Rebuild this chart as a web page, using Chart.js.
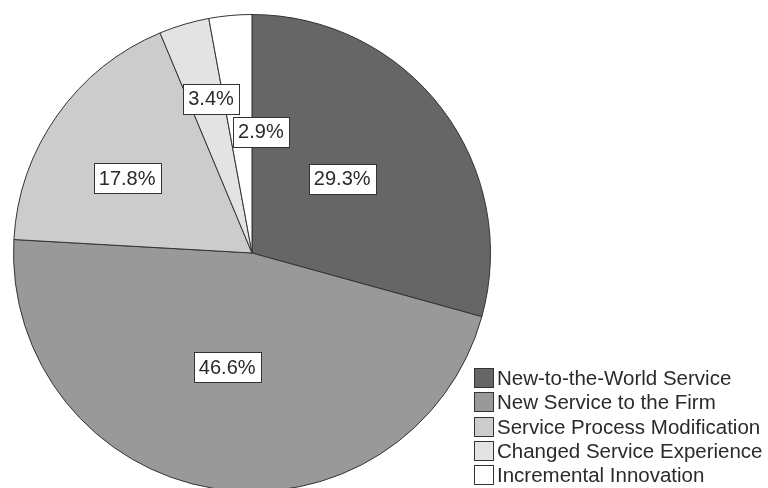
<!DOCTYPE html>
<html>
<head>
<meta charset="utf-8">
<script src="https://cdn.jsdelivr.net/npm/chart.js@4/dist/chart.umd.min.js"></script>
<style>
  html, body { margin: 0; padding: 0; background: #fff; overflow: hidden; }
  #wrap { width: 768px; height: 488px; overflow: hidden; }
</style>
</head>
<body>
<div id="wrap"><canvas id="chartPie" width="768" height="496"></canvas></div>
<script>
let categories = [
  "New-to-the-World Service",
  "New Service to the Firm",
  "Service Process Modification",
  "Changed Service Experience",
  "Incremental Innovation",
];
let percents = [29.3, 46.6, 17.8, 3.4, 2.9];
let sliceColors = ["#666666", "#999999", "#cccccc", "#e3e3e3", "#ffffff"];

// where each label box sits: fraction of radius and small turn (degrees) off the mid angle
let labelRadius = [0.49, 0.49, 0.61, 0.67, 0.51];
let labelTurn = [-2.2, 2.9, -4.4, 1.7, 9.4];

const FONT = "Arial, 'Liberation Sans', sans-serif";

let boxLabels = {
  id: "boxLabels",
  afterDatasetsDraw(chart) {
    let ctx = chart.ctx;
    let meta = chart.getDatasetMeta(0);
    ctx.save();
    ctx.font = "20px " + FONT;
    ctx.textAlign = "center";
    ctx.textBaseline = "middle";
    meta.data.forEach((arc, i) => {
      let mid = (arc.startAngle + arc.endAngle) / 2 + (labelTurn[i] * Math.PI) / 180;
      let r = arc.outerRadius * labelRadius[i];
      let x = arc.x + Math.cos(mid) * r;
      let y = arc.y + Math.sin(mid) * r;
      let txt = percents[i].toFixed(1) + "%";
      let w = ctx.measureText(txt).width + 10;
      let h = 30;
      ctx.fillStyle = "#fff";
      ctx.fillRect(Math.round(x - w / 2) + 0.5, Math.round(y - h / 2) + 0.5, Math.round(w), h);
      ctx.strokeStyle = "#333";
      ctx.lineWidth = 1;
      ctx.strokeRect(Math.round(x - w / 2) + 0.5, Math.round(y - h / 2) + 0.5, Math.round(w), h);
      ctx.fillStyle = "#2a2a2a";
      ctx.fillText(txt, x, y + 1);
    });
    ctx.restore();
  },
};

let sideLegend = {
  id: "sideLegend",
  afterDraw(chart) {
    let ctx = chart.ctx;
    ctx.save();
    ctx.font = "20.5px " + FONT;
    ctx.textBaseline = "middle";
    chart.data.labels.forEach((lab, i) => {
      let top = 368 + i * 24.3;
      ctx.fillStyle = sliceColors[i];
      ctx.fillRect(474.5, Math.round(top) + 0.5, 19, 19);
      ctx.strokeStyle = "#333";
      ctx.lineWidth = 1;
      ctx.strokeRect(474.5, Math.round(top) + 0.5, 19, 19);
      ctx.fillStyle = "#2a2a2a";
      ctx.fillText(lab, 497, Math.round(top) + 11);
    });
    ctx.restore();
  },
};

let chartPie = new Chart(document.getElementById("chartPie").getContext("2d"), {
  type: "pie",
  data: {
    labels: categories,
    datasets: [
      {
        data: percents,
        backgroundColor: sliceColors,
        borderColor: "#333333",
        borderWidth: 1,
      },
    ],
  },
  options: {
    responsive: false,
    animation: false,
    layout: {
      padding: { left: 13, right: 277, top: 14, bottom: 4 },
    },
    plugins: {
      legend: { display: false },
      tooltip: { enabled: false },
    },
  },
  plugins: [boxLabels, sideLegend],
});
</script>
</body>
</html>
